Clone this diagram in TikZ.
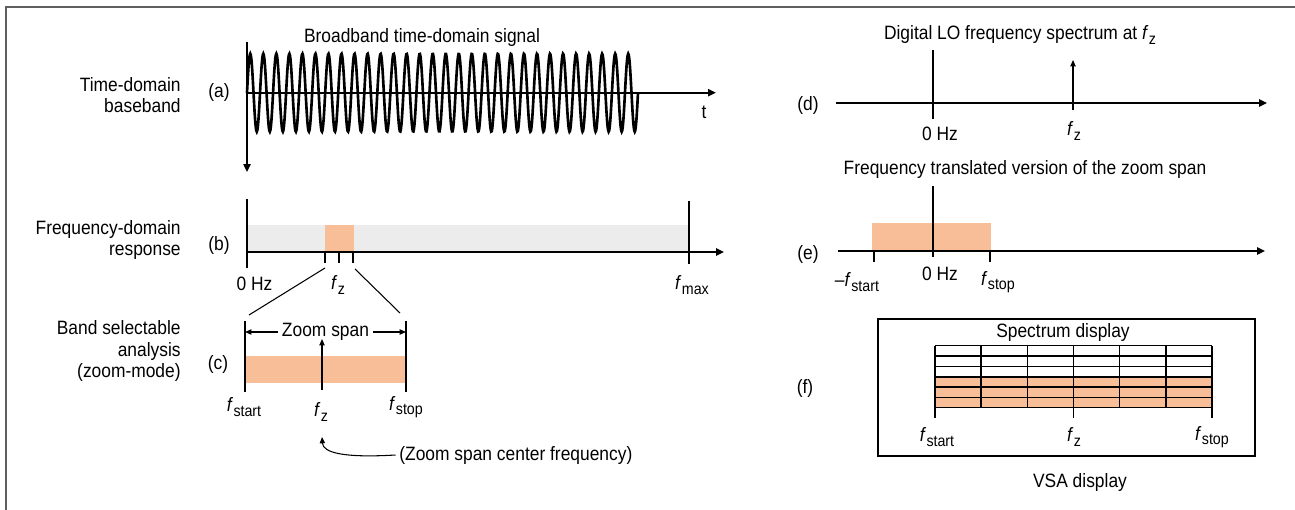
\documentclass[tikz,border=0pt]{standalone}
\usepackage{fontspec}
\setmainfont[FakeStretch=0.9]{Liberation Sans}
\usetikzlibrary{arrows.meta,positioning}
\definecolor{zoomOrange}{RGB}{248,190,152}
\definecolor{bandGray}{RGB}{236,236,236}
\definecolor{frameGray}{RGB}{95,95,95}
\newcommand{\fsub}[1]{\textit{f}\kern0.2pt\raisebox{-0.45ex}{\fontsize{9}{10}\selectfont #1}}

\begin{document}
\begin{tikzpicture}[x=0.02cm,y=-0.02cm,
    font=\fontsize{11}{12.2}\selectfont,
    axis/.style={line width=1.1pt},
    thin/.style={line width=0.6pt},
    arr/.style={-{Triangle[length=4.5pt,width=4pt]}},
    sarr/.style={-{Triangle[length=3.6pt,width=3pt]}},
    wave/.style={line width=1.5pt},
    lbl/.style={align=right,anchor=east,inner sep=0pt},
    tag/.style={inner sep=0pt},
    txt/.style={inner sep=0pt}]

    \useasboundingbox (0,0) rectangle (1295,510);
    \draw[frameGray,line width=1.2pt] (6,510) -- (6,7) -- (1295,7);

    % (a) time-domain baseband
    \node[lbl] (la) at (181,95) {Time-domain\\baseband};
    \node[tag] (ta) at (219,92.5) {(a)};
    \node[txt] (tita) at (422,38) {Broadband time-domain signal};
    \coordinate (a0) at (247,92.7);
    \coordinate (atop) at (247,42);
    \coordinate (abot) at (247,172);
    \coordinate (aend) at (716,92.7);
    \draw[axis,arr] (atop) -- (abot);
    \draw[axis,arr] (a0) -- (aend);
    \draw[wave] plot[domain=0:391,samples=720] ({247+\x},{92.7-39*sin(27.621*\x)});
    \node[txt] (tt) at (704,112) {t};

    % (b) frequency-domain response
    \node[lbl] (lb) at (181,240) {Frequency-domain\\response};
    \node[tag] (tb) at (219,245) {(b)};
    \fill[bandGray] (247,225) rectangle (688,252);
    \fill[zoomOrange] (325,225) rectangle (354,252);
    \coordinate (b0) at (247,252);
    \coordinate (bend) at (724,252);
    \draw[axis] (247,199) -- (247,268);
    \draw[axis] (689,201) -- (689,264);
    \draw[axis,arr] (b0) -- (bend);
    \foreach \t/\n in {325/l,339/m,353/r} {
      \draw[thin] (\t,252) -- (\t,263) coordinate (bt\n);
    }
    \node[txt] (bhz) at (254.5,284) {0 Hz};
    \node[txt] (bfz) at (338,285) {\fsub{z}};
    \node[txt] (bfm) at (692,285) {\fsub{max}};

    % zoom lines
    \coordinate (zl0) at (325,268);
    \coordinate (zl1) at (249,315);
    \coordinate (zr0) at (355,269);
    \coordinate (zr1) at (400,313);
    \draw[thin] (zl0) -- (zl1);
    \draw[thin] (zr0) -- (zr1);

    % (c) band selectable analysis
    \node[lbl] (lc) at (181,351) {Band selectable\\analysis\\(zoom-mode)};
    \node[tag] (tc) at (218,364) {(c)};
    \fill[zoomOrange] (245,356) rectangle (406,383);
    \draw[axis] (245,321) coordinate (cl0) -- (245,392) coordinate (cl1);
    \draw[axis] (406,321) coordinate (cr0) -- (406,392) coordinate (cr1);
    \coordinate (spl) at (245,332);
    \coordinate (spr) at (406,332);
    \draw[thin,{Triangle[length=3.6pt,width=3pt]}-{Triangle[length=3.6pt,width=3pt]}]
      (spl) -- node[fill=white,inner sep=2pt] (span) {Zoom span} (spr);
    \coordinate (cfz0) at (322,390);
    \coordinate (cfz1) at (322,339);
    \draw[thin,sarr] (cfz0) -- (cfz1);
    \node[txt] (cfs) at (244,407) {\fsub{start}};
    \node[txt] (cfz) at (321,412) {\fsub{z}};
    \node[txt] (cfp) at (406,407) {\fsub{stop}};
    \node[txt,anchor=west] (note) at (399,455) {(Zoom span center frequency)};
    \coordinate (ntip) at (322,437);
    \draw[thin,sarr] ([xshift=-2pt]note.west) .. controls (345,458) and (323,453) .. (ntip);

    % (d) digital LO
    \node[txt] (titd) at (1020,35) {Digital LO frequency spectrum at \fsub{z}};
    \node[tag] (td) at (808,105) {(d)};
    \coordinate (d0) at (836,103);
    \coordinate (dend) at (1267,103);
    \draw[axis,arr] (d0) -- (dend);
    \draw[axis] (933,50) -- (933,119);
    \coordinate (lo0) at (1073,110);
    \coordinate (lo1) at (1073,60);
    \draw[thin,sarr] (lo0) -- (lo1);
    \node[txt] (dhz) at (940,134) {0 Hz};
    \node[txt] (dfz) at (1074,131) {\fsub{z}};

    % (e) translated zoom span
    \node[txt] (tite) at (1025,170) {Frequency translated version of the zoom span};
    \node[tag] (te) at (808,254) {(e)};
    \fill[zoomOrange] (872,223) rectangle (991,251);
    \coordinate (e0) at (838,251);
    \coordinate (eend) at (1265,251);
    \draw[axis,arr] (e0) -- (eend);
    \draw[axis] (933,186) -- (933,257);
    \draw[thin] (874,251) -- (874,262);
    \draw[thin] (990,251) -- (990,262);
    \node[txt] (efs) at (857,282) {\textendash\fsub{start}};
    \node[txt] (ehz) at (940,274) {0 Hz};
    \node[txt] (efp) at (998,282) {\fsub{stop}};

    % (f) VSA display
    \node[tag] (tf) at (805,388) {(f)};
    \draw[line width=1.2pt] (878,319) rectangle (1255,456);
    \node[txt] (spec) at (1063,333) {Spectrum display};
    \fill[zoomOrange] (935,376.7) rectangle (1212,407.7);
    \foreach \r in {0,...,6} {
      \draw[line width=0.85pt] (935,345.7+10.33*\r) -- (1212,345.7+10.33*\r);
    }
    \draw[line width=1.2pt] (935,376.7) -- (1212,376.7);
    \foreach \c in {0,...,6} {
      \draw[line width=0.85pt] (935+46.17*\c,345.7) -- (935+46.17*\c,407.7);
    }
    \foreach \t in {935,1073.5,1212} {
      \draw[thin] (\t,407.7) -- (\t,418);
    }
    \node[txt] (ffs) at (937,437) {\fsub{start}};
    \node[txt] (ffz) at (1074,437) {\fsub{z}};
    \node[txt] (ffp) at (1212,437) {\fsub{stop}};
    \node[txt] (vsa) at (1080,482) {VSA display};
\end{tikzpicture}
\end{document}
